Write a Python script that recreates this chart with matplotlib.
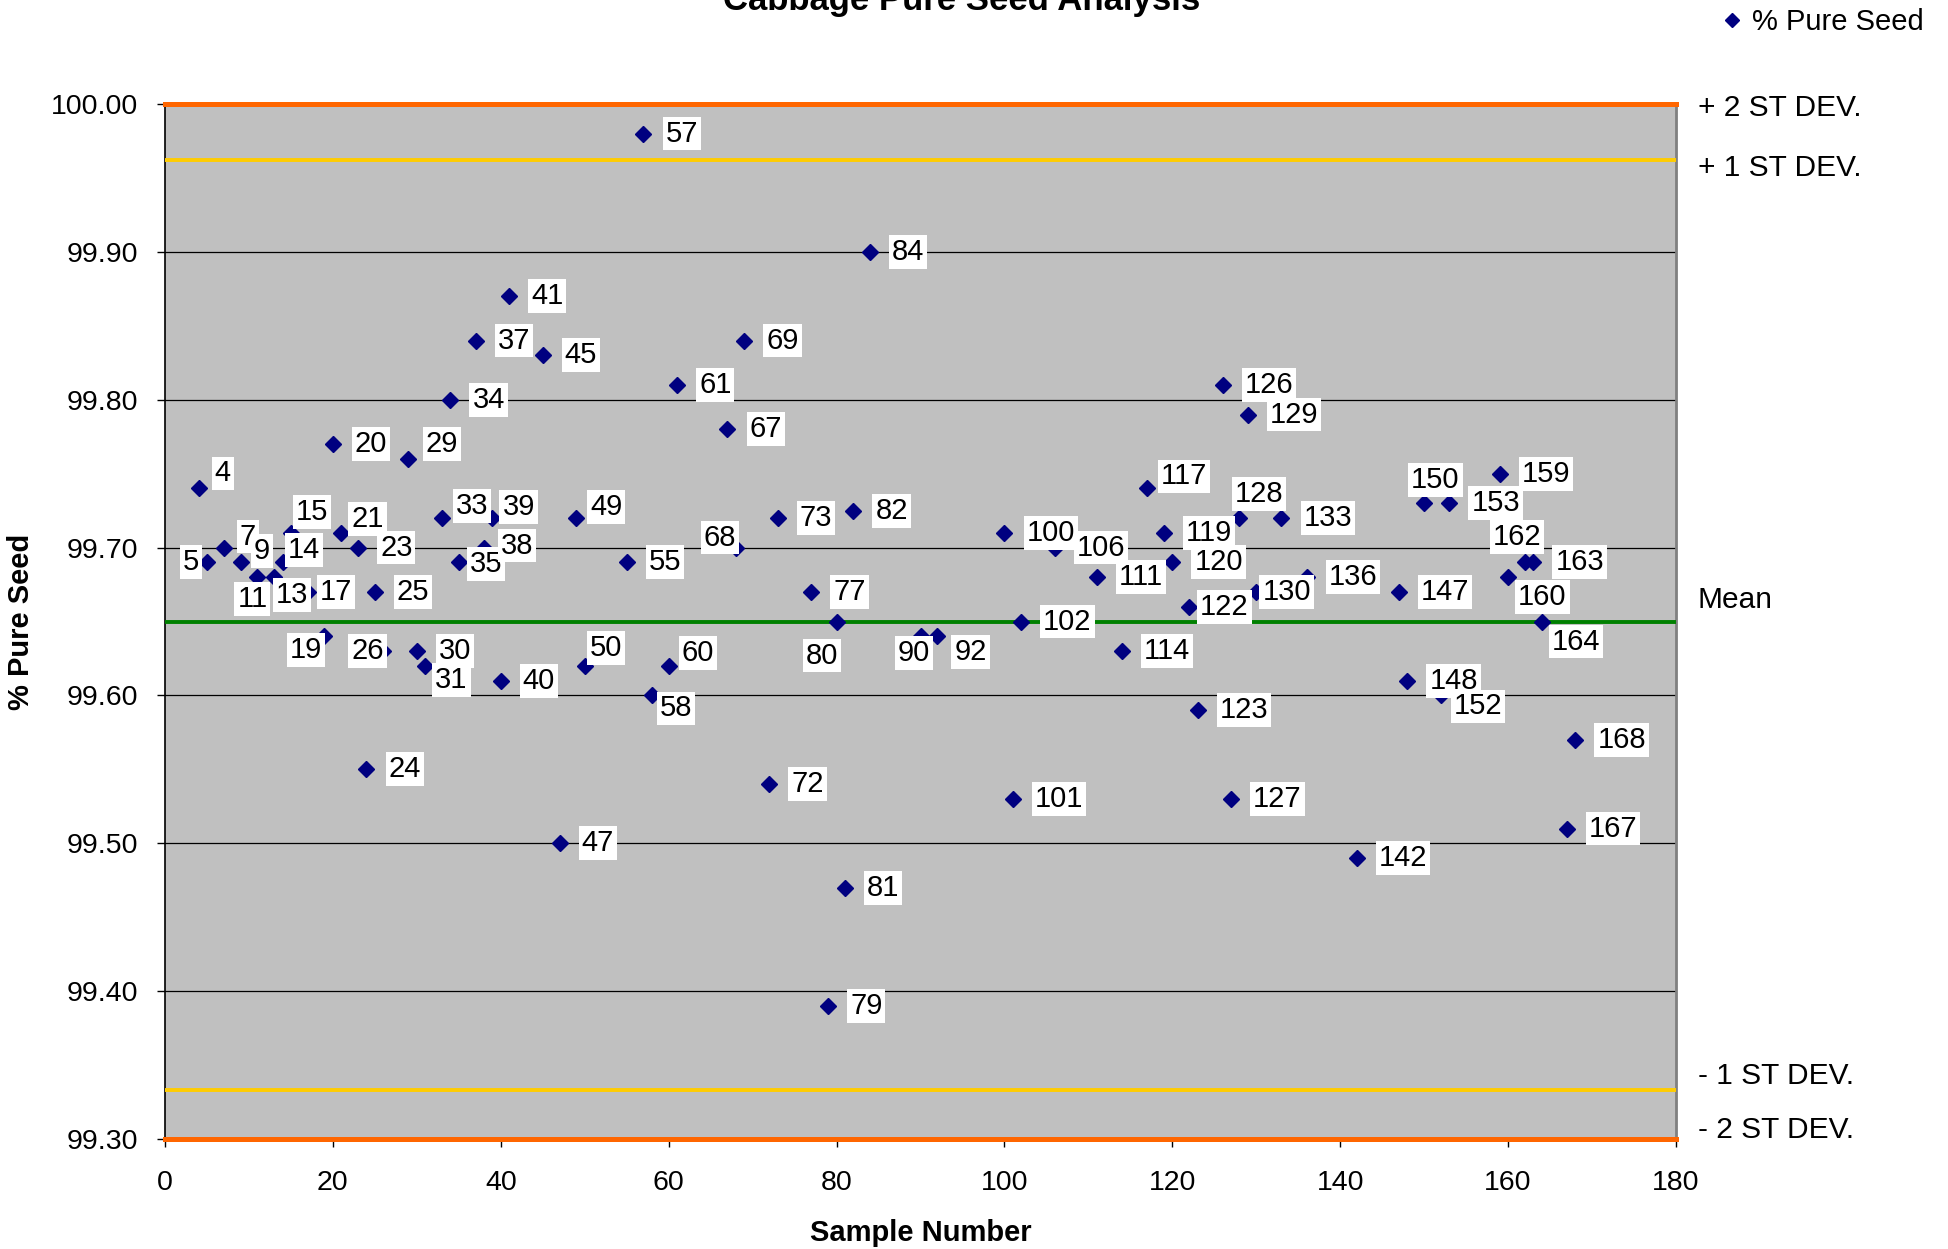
import matplotlib
matplotlib.use('Agg')
import matplotlib.pyplot as plt

plt.rcParams['font.family'] = ['Liberation Sans', 'DejaVu Sans']

# data
samples = [4, 5, 7, 9, 11, 13, 14, 15, 17, 19, 20, 21, 23, 24, 25, 26, 29, 30, 31, 33,
           34, 35, 37, 38, 39, 40, 41, 45, 47, 49, 50, 55, 57, 58, 60, 61, 67, 68, 69, 72,
           73, 77, 79, 80, 81, 82, 84, 90, 92, 100, 101, 102, 106, 111, 114, 117, 119, 120, 122, 123,
           126, 127, 128, 129, 130, 133, 136, 142, 147, 148, 150, 152, 153, 159, 160, 162, 163, 164, 167, 168]
pure_seed = [99.74, 99.69, 99.70, 99.69, 99.68, 99.68, 99.69, 99.71, 99.67, 99.64, 99.77, 99.71, 99.70, 99.55, 99.67, 99.63, 99.76, 99.63, 99.62, 99.72,
             99.80, 99.69, 99.84, 99.70, 99.72, 99.61, 99.87, 99.83, 99.50, 99.72, 99.62, 99.69, 99.98, 99.60, 99.62, 99.81, 99.78, 99.70, 99.84, 99.54,
             99.72, 99.67, 99.39, 99.65, 99.47, 99.725, 99.90, 99.64, 99.64, 99.71, 99.53, 99.65, 99.70, 99.68, 99.63, 99.74, 99.71, 99.69, 99.66, 99.59,
             99.81, 99.53, 99.72, 99.79, 99.67, 99.72, 99.68, 99.49, 99.67, 99.61, 99.73, 99.60, 99.73, 99.75, 99.68, 99.69, 99.69, 99.65, 99.51, 99.57]

mean_val = 99.65
plus1 = 99.962
minus1 = 99.333
plus2 = 100.00   # drawn at the axis edge
minus2 = 99.30

band_labels = ['+ 2 ST DEV.', '+ 1 ST DEV.', 'Mean', '- 1 ST DEV.', '- 2 ST DEV.']

# label offsets in pixels (dx right, dy down) for labels moved off the default spot
label_moves = {4: (16, -15), 5: (-24, 0), 7: (16, -11), 9: (13, -11), 11: (-20, 22),
               13: (2, 18), 14: (5, -12), 15: (5, -21), 17: (12, 0), 19: (-35, 14),
               21: (10, -14), 26: (-32, 0), 29: (17, -15), 31: (10, 14), 33: (14, -12),
               35: (11, 2), 38: (17, -2), 39: (10, -11), 49: (14, -11), 50: (5, -18),
               58: (8, 13), 60: (13, -13), 68: (-32, -10), 80: (-31, 34), 90: (-23, 17),
               92: (17, 16), 117: (14, -12), 122: (11, 0), 128: (-5, -24), 130: (6, 0),
               150: (-13, -23), 152: (13, 11), 160: (10, 20), 162: (-32, -25), 164: (10, 20)}

W, H = 1948, 1249
fig = plt.figure(figsize=(W / 100, H / 100), dpi=100)
ax = fig.add_axes([165 / W, 1 - 1139 / H, (1676 - 165) / W, (1139 - 104) / H])
ax.set_facecolor('#C0C0C0')

ax.set_xlim(0, 180)
ax.set_ylim(99.30, 100.00)
ax.set_xticks(range(0, 181, 20))
ax.set_yticks([99.3 + 0.1 * i for i in range(8)])
ax.yaxis.set_major_formatter(matplotlib.ticker.FormatStrFormatter('%.2f'))
ax.tick_params(axis='both', labelsize=20.5, direction='out', length=6, width=1)
ax.tick_params(axis='y', pad=13)
ax.tick_params(axis='x', pad=16)
ax.grid(axis='y', color='black', linewidth=0.9)
ax.set_axisbelow(True)

for s in ['left', 'bottom']:
    ax.spines[s].set_color('black')
    ax.spines[s].set_linewidth(1.2)
for s in ['right', 'top']:
    ax.spines[s].set_color('#808080')
    ax.spines[s].set_linewidth(2)

# control lines
ax.axhline(plus2, color='#FF6600', linewidth=3.6, clip_on=False, zorder=3)
ax.axhline(minus2, color='#FF6600', linewidth=3.6, clip_on=False, zorder=3)
ax.axhline(plus1, color='#FFCC00', linewidth=2.8, zorder=3)
ax.axhline(minus1, color='#FFCC00', linewidth=2.8, zorder=3)
ax.axhline(mean_val, color='#008000', linewidth=2.8, zorder=3)

ax.plot(samples, pure_seed, linestyle='none', marker='D', markersize=8,
        color='#000080', label='% Pure Seed', zorder=4)

for s, v in zip(samples, pure_seed):
    dx, dy = label_moves.get(s, (22, 0))
    ax.annotate(str(s), (s, v), xytext=(dx, -dy), textcoords='offset pixels',
                ha='left', va='center', fontsize=21, zorder=5,
                bbox=dict(boxstyle='square,pad=0.1', fc='white', ec='none'))

band_y = [108, 168, 600, 1076, 1130]
for txt, py in zip(band_labels, band_y):
    fig.text(1698 / W, 1 - py / H, txt, fontsize=21.5, va='center', ha='left')

fig.text(962 / W, 1 - 10 / H, 'Cabbage Pure Seed Analysis', fontsize=25,
         fontweight='bold', ha='center', va='baseline')
ax.set_xlabel('Sample Number', fontsize=21, fontweight='bold', labelpad=17)
ax.set_ylabel('% Pure Seed', fontsize=21, fontweight='bold', labelpad=12)

ax.legend(loc='center left', bbox_to_anchor=(1720 / W, 1 - 22 / H),
          bbox_transform=fig.transFigure, frameon=False, fontsize=21,
          handlelength=0.8, handletextpad=0.3, borderpad=0, borderaxespad=0,
          markerscale=0.9)

fig.savefig('out.png', dpi=100)
